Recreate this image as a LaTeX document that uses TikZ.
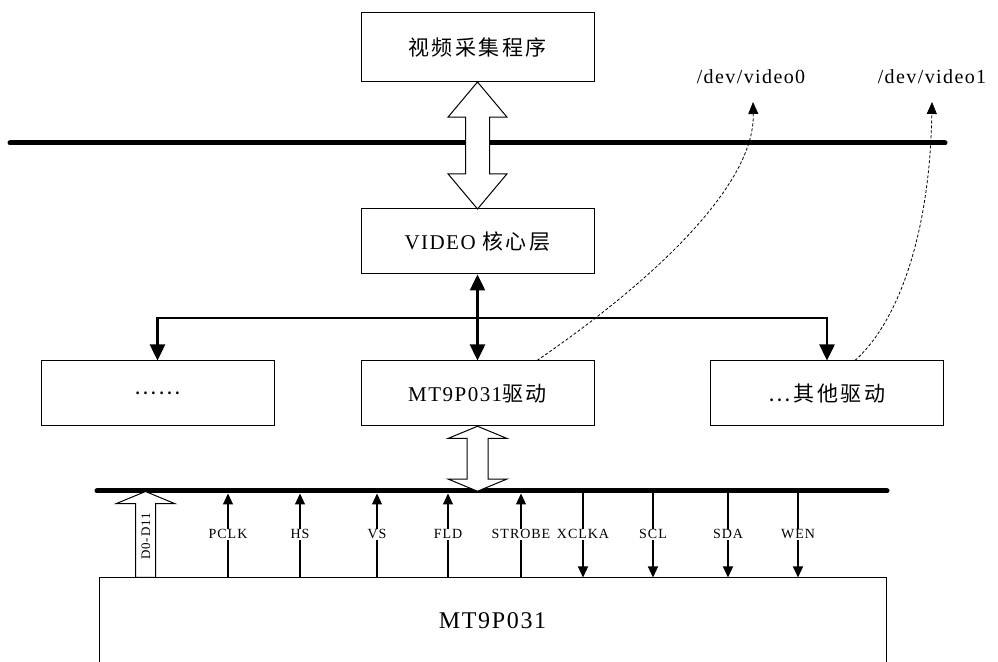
\documentclass[tikz,border=0pt]{standalone}
\usepackage{fontspec}
\setmainfont[LetterSpace=7]{Liberation Serif}
\newfontfamily\cjk[LetterSpace=12]{Noto Sans CJK SC}
\usetikzlibrary{positioning,arrows.meta,shapes.arrows,calc}

\begin{document}
\begin{tikzpicture}[x=1pt, y=1pt,
  box/.style={draw, line width=1pt, minimum width=233pt, minimum height=65pt, inner sep=0pt, font=\fontsize{21}{25}\selectfont},
  bus/.style={line width=5pt, line cap=round},
  link/.style={line width=2.5pt, {Triangle[length=16pt,width=15pt]}-{Triangle[length=16pt,width=15pt]}},
  branch/.style={line width=2.5pt, -{Triangle[length=16pt,width=15pt]}},
  hollow/.style={draw, line width=1pt, fill=white, rotate=90, inner xsep=0pt},
  sig/.style={line width=1.2pt, -{Triangle[length=11pt,width=10pt]}},
  siglabel/.style={fill=white, inner sep=1pt, font=\fontsize{14}{16}\selectfont},
  devlink/.style={dash pattern=on 3pt off 2pt, line width=0.8pt, -{Triangle[length=12pt,width=10pt]}}]
  \useasboundingbox (0,0) rectangle (998,661);
  \node[box, minimum height=69pt] (prog) at (477.5,613.5) {\cjk 视频采集程序};
  \node[box] (core) at (477.5,419.5) {VIDEO {\cjk 核心层}};
  \node[box] (other) at (157.5,267.5) {\cjk ……};
  \node[box] (drv) at (477.5,267.5) {MT9P031{\cjk 驱动}};
  \node[box] (odrv) at (827,267.5) {\cjk …其他驱动};
  \node[draw, line width=1pt, minimum width=787pt, minimum height=86pt, inner sep=0pt,
        font=\fontsize{24}{28}\selectfont] (chip) at (492.5,40) {MT9P031};
  \node[font=\fontsize{20}{24}\selectfont] (dev0) at (751,584) {/dev/video0};
  \node[font=\fontsize{20}{24}\selectfont] (dev1) at (932,584) {/dev/video1};
  \coordinate (tbusL) at (10,518);
  \coordinate (tbusR) at (945,518);
  \coordinate (lbusL) at (97,170);
  \coordinate (lbusR) at (887,170);
  \coordinate (fork) at (477.5,343);
  \coordinate (dev0tip) at (753,559);
  \coordinate (dev1tip) at (932,559);
  \draw[bus] (tbusL) -- (tbusR);
  \draw[bus] (lbusL) -- (lbusR);
  \node[hollow, shape=double arrow, minimum height=127pt, minimum width=58pt, inner ysep=11.5pt,
        double arrow head extend=17.5pt, double arrow tip angle=80] (apiarrow)
        at ($(prog.south)!0.5!(core.north)$) {};
  \node[hollow, shape=double arrow, minimum height=65pt, minimum width=58pt, inner ysep=10pt,
        double arrow head extend=19pt, double arrow tip angle=135] (busarrow)
        at ($(drv.south)!0.5!(drv.south |- lbusL)$) {};
  \draw[link] (core.south) -- (drv.north);
  \draw[branch] (fork) -| (other.north);
  \draw[branch] (fork) -| (odrv.north);
  \draw[devlink] (537,0 |- drv.north) .. controls (640,371) and (755,471) .. (dev0tip);
  \draw[devlink] (855,0 |- odrv.north) .. controls (900,341) and (930,431) .. (dev1tip);
  \node[hollow, shape=single arrow, minimum height=86pt, minimum width=58pt,
        text height=9pt, text depth=0pt, inner ysep=5pt,
        single arrow head extend=19.5pt, single arrow tip angle=135,
        font=\fontsize{13}{15}\selectfont, anchor=tail] (data) at (145.5,83) {D0-D11};
  \foreach \x/\s in {228/PCLK, 300/HS, 377/VS, 448/FLD, 521/STROBE}
    \draw[sig, shorten >=2.5pt] (\x,0 |- chip.north) -- node[siglabel] {\s} (\x,0 |- lbusL);
  \foreach \x/\s in {583/XCLKA, 653/SCL, 728/SDA, 798/WEN}
    \draw[sig, shorten <=2.5pt] (\x,0 |- lbusL) -- node[siglabel] {\s} (\x,0 |- chip.north);
\end{tikzpicture}
\end{document}
